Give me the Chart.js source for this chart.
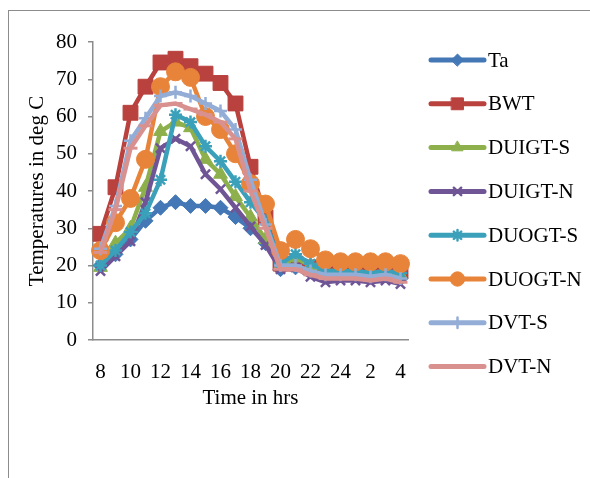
<!DOCTYPE html>
<html>
<head>
<meta charset="utf-8">
<title>Temperatures</title>
<script src="https://cdn.jsdelivr.net/npm/chart.js@4.4.0/dist/chart.umd.min.js"></script>
<style>
  body { margin: 0; background: #fff; }
  #wrap { position: relative; width: 590px; height: 478px; overflow: hidden; }
  #frame { position: absolute; left: 8px; top: 10px; width: 700px; height: 600px;
           border-left: 1.5px solid #8c8c8c; border-top: 1.5px solid #8c8c8c; }
  #c { position: absolute; left: 0; top: 0; }
</style>
</head>
<body>
<div id="wrap">
  <div id="frame"></div>
  <canvas id="c" width="590" height="478"></canvas>
</div>
<script>
// hours of the day, 8 am through 4 am next morning
const hours = ['8','9','10','11','12','13','14','15','16','17','18','19','20','21','22','23','24','1','2','3','4'];

const ta      = [20, 23, 27, 32, 35.5, 37, 36, 36, 35.5, 33, 30, 26, 19, 19.5, 18.5, 17.5, 17.5, 17.5, 17, 17.5, 16.5];
const bwt     = [28.5, 41, 61, 68, 74.5, 75.5, 73.5, 71.5, 69, 63.5, 46.5, 33, 20.5, 20.5, 19.5, 19, 19, 19, 18.5, 19, 18.5];
const duigtS  = [19.5, 26, 30, 41, 56, 58.5, 57, 48.5, 44.5, 38.5, 33, 27, 20, 22, 20, 18.5, 18.5, 18.5, 18, 18.5, 17.5];
const duigtN  = [18.5, 22.5, 26.5, 37, 51.5, 54, 52, 44.5, 40.5, 35.5, 30.5, 25.5, 19, 19.5, 17, 15.5, 16, 16, 15.5, 16, 15];
const duogtS  = [20, 24, 29, 34, 43, 60.5, 58.5, 52, 48, 42.5, 37, 32, 20.5, 23, 20.5, 18.5, 18.5, 18.5, 18, 18.5, 18];
const duogtN  = [24, 31.5, 38, 48.5, 68, 72, 70.5, 60, 56.5, 50, 42, 36.5, 24, 27, 24.5, 21.5, 21, 21, 21, 21, 20.5];
const dvtS    = [24.5, 36, 53.5, 59.5, 65.5, 66.5, 65.5, 63.5, 61.5, 56.5, 43, 31, 20, 20, 18.5, 17.5, 17.5, 17.5, 17, 17.5, 16.5];
const dvtN    = [23.5, 35, 51.5, 57.5, 63, 63.5, 62, 60.5, 58.5, 54, 40, 30, 19, 19, 17.5, 16.5, 16.5, 16.5, 16, 16.5, 15.5];

const seriesNames = ['Ta', 'BWT', 'DUIGT-S', 'DUIGT-N', 'DUOGT-S', 'DUOGT-N', 'DVT-S', 'DVT-N'];
const seriesData = [ta, bwt, duigtS, duigtN, duogtS, duogtN, dvtS, dvtN];
const colors = ['#4477B6', '#B9413E', '#8DB04C', '#6F5595', '#3BA0BA', '#E8843A', '#93ADD6', '#D9918F'];
const markers = ['rectRot', 'rect', 'triangle', 'crossRot', 'star', 'circle', 'cross', 'line'];
const markerSize = [7.5, 10.5, 8, 6.5, 6.5, 9, 6.5, 7];
const markerBorder = [1, 1, 1, 2.5, 2.5, 1, 2.5, 3];

const serif = "'Liberation Serif', 'Times New Roman', serif";

function makeDatasets(){
    var sets = [];
    for (let i = 0; i < seriesNames.length; i++) {
        sets.push({
            label: seriesNames[i],
            data: seriesData[i],
            borderColor: colors[i],
            backgroundColor: colors[i],
            borderWidth: 4.5,
            pointStyle: markers[i],
            pointRadius: markerSize[i],
            pointBorderWidth: markerBorder[i],
            pointBackgroundColor: colors[i],
            pointBorderColor: colors[i],
            tension: 0,
            order: seriesNames.length - i   // later series drawn on top
        });
    }
    return sets;
}

// legend on the right: line segment with marker in the middle, then the name
const sideLegend = {
    id: 'sideLegend',
    afterDraw(chart){
        const ctx = chart.ctx;
        ctx.save();
        chart.data.datasets.forEach((ds, i) => {
            let y = 60 + i * 43.8;
            ctx.strokeStyle = ds.borderColor;
            ctx.lineWidth = 5;
            ctx.lineCap = 'round';
            ctx.beginPath();
            ctx.moveTo(431, y);
            ctx.lineTo(484, y);
            ctx.stroke();
            ctx.fillStyle = ds.backgroundColor;
            ctx.strokeStyle = ds.borderColor;
            ctx.lineWidth = ds.pointBorderWidth;
            Chart.helpers.drawPoint(ctx, {
                pointStyle: ds.pointStyle,
                radius: ds.pointRadius * 0.8,
                rotation: 0,
                borderWidth: ds.pointBorderWidth
            }, 457.5, y);
            ctx.fillStyle = '#000';
            ctx.font = "21px " + serif;
            ctx.textBaseline = 'middle';
            ctx.textAlign = 'left';
            ctx.fillText(ds.label, 488, y + 1);
        });
        ctx.restore();
    }
};

const ctx = document.getElementById('c').getContext('2d');
const chart = new Chart(ctx, {
    type: 'line',
    data: {
        labels: hours,
        datasets: makeDatasets()
    },
    options: {
        responsive: false,
        animation: false,
        layout: {
            padding: { left: 0, right: 182, top: 42, bottom: 63 }
        },
        plugins: {
            legend: { display: false },
            tooltip: { enabled: false }
        },
        scales: {
            x: {
                offset: true,
                grid: { display: false },
                border: { display: true, color: '#8c8c8c', width: 1.5 },
                ticks: {
                    autoSkip: false,
                    maxRotation: 0,
                    padding: 12,
                    color: '#000',
                    font: { family: serif, size: 21 },
                    callback: function(val, index){
                        return index % 2 === 0 ? hours[index] : '';
                    }
                },
                title: {
                    display: true,
                    text: 'Time in hrs',
                    color: '#000',
                    font: { family: serif, size: 21 },
                    padding: { top: 0, bottom: 4 }
                },
                afterFit(scale){ scale.height = 75; }
            },
            y: {
                min: 0,
                max: 80,
                grid: { drawOnChartArea: false, drawTicks: true, tickLength: 5, color: '#8c8c8c', lineWidth: 1.5 },
                border: { display: true, color: '#8c8c8c', width: 1.5 },
                ticks: {
                    stepSize: 10,
                    padding: 11,
                    color: '#000',
                    font: { family: serif, size: 21 }
                },
                title: {
                    display: true,
                    text: 'Temperatures in deg C',
                    color: '#000',
                    font: { family: serif, size: 21 },
                    padding: { top: 25, bottom: 0 }
                },
                afterFit(scale){ scale.width = 93; }
            }
        }
    },
    plugins: [sideLegend]
});
</script>
</body>
</html>
